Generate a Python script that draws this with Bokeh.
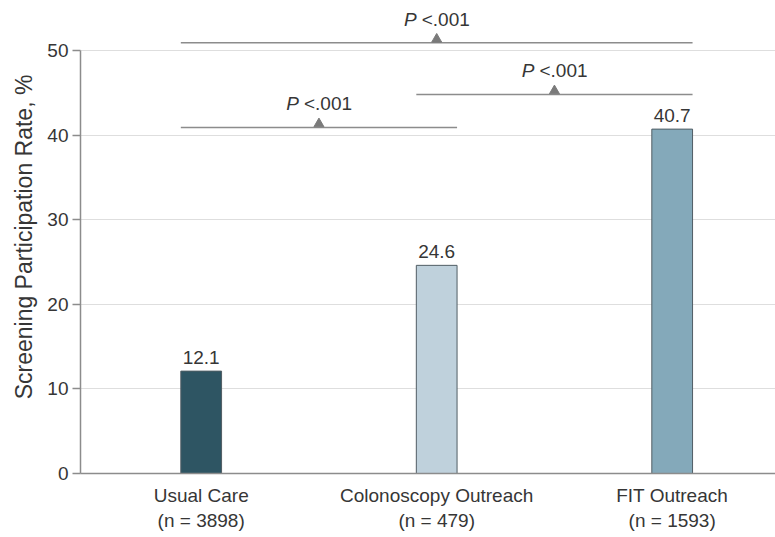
from bokeh.plotting import figure
from bokeh.models import ColumnDataSource, FixedTicker
from bokeh.core.properties import value
from bokeh.embed import file_html
from bokeh.resources import INLINE

# ---- data ----
groups = ["Usual Care", "Colonoscopy Outreach", "FIT Outreach"]
group_n = [3898, 479, 1593]
rates = [12.1, 24.6, 40.7]
bar_colors = ["#2e5563", "#bfd1dc", "#84a9ba"]
value_labels = ["12.1", "24.6", "40.7"]

# comparisons: (first group index, second group index, bracket height, label)
cmp_first = [0, 1, 0]
cmp_second = [1, 2, 2]
cmp_height = [40.9, 44.8, 50.9]
cmp_label = ["<.001", "<.001", "<.001"]

y_ticks = [0, 10, 20, 30, 40, 50]

FONT = "Liberation Sans"
TXT = "#363636"
GRAY = "#8c8c8c"

xs = [i + 1 for i in range(len(groups))]
bar_w = 0.173

p = figure(width=775, height=537, output_backend="svg", toolbar_location=None,
           x_range=(0.4875, 3.4387), y_range=(0, 55.9),
           min_border_left=80, min_border_right=0, min_border_top=0,
           min_border_bottom=64)
p.outline_line_color = None
p.background_fill_color = "white"

# grid
p.xgrid.visible = False
p.ygrid.ticker = FixedTicker(ticks=y_ticks[1:])
p.ygrid.grid_line_color = "#dedede"
p.ygrid.grid_line_width = 1.2

# bars
src = ColumnDataSource(dict(x=xs, top=rates, color=bar_colors, lab=value_labels))
p.vbar(x="x", top="top", bottom=0, width=bar_w, fill_color="color",
       line_color="#505d64", line_width=1, source=src)
p.text(x="x", y="top", text="lab", source=src, text_align="center",
       text_baseline="bottom", y_offset=-7, text_font=value(FONT),
       text_font_size="19px", text_color=TXT)

# comparison brackets
bx0 = [xs[a] - bar_w / 2 for a in cmp_first]
bx1 = [xs[b] + bar_w / 2 for b in cmp_second]
bmid = [(xs[a] + xs[b]) / 2 for a, b in zip(cmp_first, cmp_second)]
csrc = ColumnDataSource(dict(x0=bx0, x1=bx1, y=cmp_height, xm=bmid,
                             tri_y=[h + 0.42 for h in cmp_height],
                             lab=cmp_label, P=["P"] * len(cmp_label)))
p.segment(x0="x0", y0="y", x1="x1", y1="y", source=csrc,
          line_color=GRAY, line_width=1.5)
p.scatter(x="xm", y="tri_y", source=csrc, marker="triangle", size=10,
          fill_color="#7a7a7a", line_color="#7a7a7a")
p.text(x="xm", y="y", text="P", source=csrc, text_align="right",
       text_baseline="bottom", x_offset=-20, y_offset=-13,
       text_font=value(FONT), text_font_style="italic",
       text_font_size="19px", text_color=TXT)
p.text(x="xm", y="y", text="lab", source=csrc, text_align="left",
       text_baseline="bottom", x_offset=-15, y_offset=-13,
       text_font=value(FONT), text_font_size="19px", text_color=TXT)

# y axis
p.yaxis.ticker = FixedTicker(ticks=y_ticks)
p.yaxis.bounds = (0, 50)
p.yaxis.axis_label = "Screening Participation Rate, %"
p.yaxis.axis_label_text_font = FONT
p.yaxis.axis_label_text_font_size = "23px"
p.yaxis.axis_label_text_font_style = "normal"
p.yaxis.axis_label_text_color = TXT
p.yaxis.axis_label_standoff = 7
p.yaxis.major_label_text_font = FONT
p.yaxis.major_label_text_font_size = "19px"
p.yaxis.major_label_text_color = TXT
p.yaxis.major_label_standoff = 4
p.yaxis.major_tick_out = 8
p.yaxis.major_tick_in = 0
p.yaxis.minor_tick_line_color = None
p.yaxis.axis_line_color = GRAY
p.yaxis.axis_line_width = 1.5
p.yaxis.major_tick_line_color = GRAY
p.yaxis.major_tick_line_width = 1.5

# x axis
p.xaxis.ticker = FixedTicker(ticks=xs)
p.xaxis.major_label_overrides = {
    x: f"{g}\n(n = {n})" for x, g, n in zip(xs, groups, group_n)
}
p.xaxis.major_label_text_font = FONT
p.xaxis.major_label_text_font_size = "19px"
p.xaxis.major_label_text_color = TXT
p.xaxis.major_label_standoff = 5
p.xaxis.major_tick_line_color = None
p.xaxis.minor_tick_line_color = None
p.xaxis.axis_line_color = GRAY
p.xaxis.axis_line_width = 1.5

open("out.html", "w").write(file_html(p, INLINE))
